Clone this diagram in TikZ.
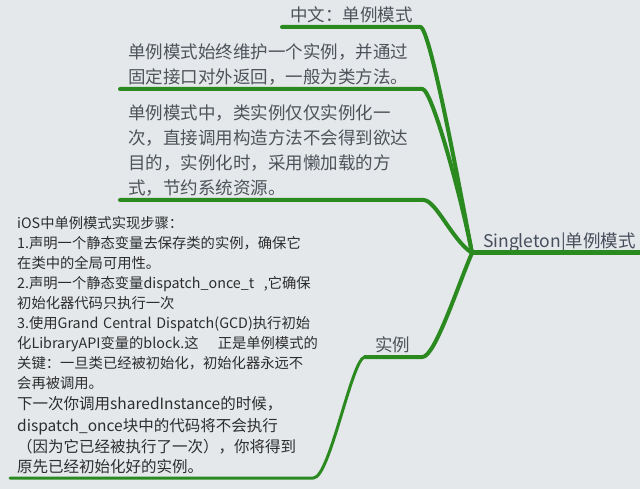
\documentclass[tikz,border=0pt]{standalone}
\usepackage{fontspec}
\newfontfamily\cjk{Noto Sans CJK SC}
\definecolor{bg}{RGB}{228,232,235}
\definecolor{branchgreen}{RGB}{42,138,32}
\definecolor{topictext}{RGB}{78,83,90}
\definecolor{roottext}{RGB}{70,78,92}
\definecolor{bodytext}{RGB}{45,45,45}
\newcommand\ud{\rule[-5pt]{0pt}{5pt}}
\begin{document}
\begin{tikzpicture}[x=1pt,y=-1pt,
  topic/.style={anchor=south west, inner ysep=0pt, align=left,
    font=\cjk\fontsize{17.5}{25}\selectfont, text=topictext},
  link/.style={draw=branchgreen, line width=4pt, line cap=round, line join=round},
  sublink/.style={link, line width=3pt}]
\fill[bg] (0,0) rectangle (640,489);
\useasboundingbox (0,0) rectangle (640,489);

% root
\node[topic, text=roottext, inner xsep=11pt, text width=146pt] (root) at (472,253)
  {Singleton|单例模式\ud};

% main topics
\node[topic, inner xsep=8pt, text width=122pt] (n1) at (282,27) {中文：单例模式\ud};
\node[topic, inner xsep=8pt, text width=286pt] (n2) at (120,89)
  {单例模式始终维护一个实例，并通过\\固定接口对外返回，一般为类方法。\ud};
\node[topic, inner xsep=8pt, text width=287pt] (n3) at (120,200)
  {单例模式中，类实例仅仅实例化一\\次，直接调用构造方法不会得到欲达\\目的，实例化时，采用懒加载的方\\式，节约系统资源。\ud};
\node[topic, inner xsep=10pt, text width=37pt] (n4) at (365,357) {实例\ud};

% sub topic of 实例
\node[topic, text=bodytext, inner xsep=7pt, text width=289pt,
  font=\cjk\fontsize{14.3}{20}\selectfont] (n5) at (10,478)
  {iOS中单例模式实现步骤：\\
   1.声明一个静态变量去保存类的实例，确保它\\
   在类中的全局可用性。\\
   \mbox{2.声明一个静态变量dispatch\_once\_t\ \ ,它确保}\\
   初始化器代码只执行一次\\
   \makebox[286pt][s]{3.使用Grand Central Dispatch(GCD)执行初始}\\
   \mbox{化LibraryAPI变量的block.这\quad\ 正是单例模式的}\\
   关键：一旦类已经被初始化，初始化器永远不\\
   会再被调用。\\
   \fontsize{15.5}{21.5}\selectfont
   下一次你调用sharedInstance的时候，\\
   dispatch\_once块中的代码将不会执行\\
   （因为它已经被执行了一次），你将得到\\
   原先已经初始化好的实例。\ud};

% connectors
\draw[link, line width=5pt] (root.south west) -- (root.south east);
\draw[link] (root.south west) .. controls (460,190) and (430,27) .. (n1.south east) -- (n1.south west);
\draw[link] (root.south west) .. controls (462,200) and (432,89) .. (n2.south east) -- (n2.south west);
\draw[link] (root.south west) .. controls (452,240) and (436,200) .. (n3.south east) -- (n3.south west);
\draw[link] (root.south west) .. controls (458,285) and (435,357) .. (n4.south east) -- (n4.south west);
\draw[sublink] (n4.south west) .. controls (352,357) and (330,478) .. (n5.south east) -- (n5.south west);
\end{tikzpicture}
\end{document}
